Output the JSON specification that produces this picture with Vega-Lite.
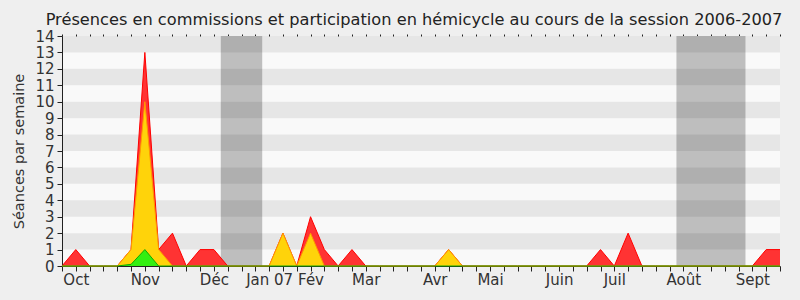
{
  "$schema": "https://vega.github.io/schema/vega-lite/v6.json",
  "width": 718,
  "height": 230,
  "autosize": {"type": "none"},
  "padding": {"left": 62, "top": 36, "right": 20, "bottom": 34},
  "background": "#efefef",
  "title": {
    "text": "Présences en commissions et participation en hémicycle au cours de la session 2006-2007",
    "font": "DejaVu Sans",
    "fontSize": 16.2,
    "fontWeight": "normal",
    "color": "#222222",
    "anchor": "middle",
    "offset": 1,
    "dx": -7
  },
  "config": {
    "view": {"fill": "#f9f9f9", "stroke": null},
    "axis": {
      "labelFont": "DejaVu Sans",
      "titleFont": "DejaVu Sans",
      "labelColor": "#333333",
      "titleColor": "#333333",
      "domainColor": "#222222",
      "tickColor": "#222222",
      "grid": false
    }
  },
  "resolve": {"axis": {"x": "independent", "y": "independent"}},
  "datasets": {
    "weeks": [
      {"week": 0, "total": 0, "hemicycle": 0, "commission": 0},
      {"week": 1, "total": 1, "hemicycle": 0, "commission": 0},
      {"week": 2, "total": 0, "hemicycle": 0, "commission": 0},
      {"week": 3, "total": 0, "hemicycle": 0, "commission": 0},
      {"week": 4, "total": 0, "hemicycle": 0, "commission": 0},
      {"week": 5, "total": 1, "hemicycle": 1, "commission": 0.1},
      {"week": 6, "total": 13, "hemicycle": 10, "commission": 1},
      {"week": 7, "total": 1, "hemicycle": 1, "commission": 0},
      {"week": 8, "total": 2, "hemicycle": 0, "commission": 0},
      {"week": 9, "total": 0, "hemicycle": 0, "commission": 0},
      {"week": 10, "total": 1, "hemicycle": 0, "commission": 0},
      {"week": 11, "total": 1, "hemicycle": 0, "commission": 0},
      {"week": 12, "total": 0, "hemicycle": 0, "commission": 0},
      {"week": 13, "total": 0, "hemicycle": 0, "commission": 0},
      {"week": 14, "total": 0, "hemicycle": 0, "commission": 0},
      {"week": 15, "total": 0, "hemicycle": 0, "commission": 0},
      {"week": 16, "total": 2, "hemicycle": 2, "commission": 0},
      {"week": 17, "total": 0, "hemicycle": 0, "commission": 0},
      {"week": 18, "total": 3, "hemicycle": 2, "commission": 0},
      {"week": 19, "total": 1, "hemicycle": 0, "commission": 0},
      {"week": 20, "total": 0, "hemicycle": 0, "commission": 0},
      {"week": 21, "total": 1, "hemicycle": 0, "commission": 0},
      {"week": 22, "total": 0, "hemicycle": 0, "commission": 0},
      {"week": 23, "total": 0, "hemicycle": 0, "commission": 0},
      {"week": 24, "total": 0, "hemicycle": 0, "commission": 0},
      {"week": 25, "total": 0, "hemicycle": 0, "commission": 0},
      {"week": 26, "total": 0, "hemicycle": 0, "commission": 0},
      {"week": 27, "total": 0, "hemicycle": 0, "commission": 0},
      {"week": 28, "total": 1, "hemicycle": 1, "commission": 0},
      {"week": 29, "total": 0, "hemicycle": 0, "commission": 0},
      {"week": 30, "total": 0, "hemicycle": 0, "commission": 0},
      {"week": 31, "total": 0, "hemicycle": 0, "commission": 0},
      {"week": 32, "total": 0, "hemicycle": 0, "commission": 0},
      {"week": 33, "total": 0, "hemicycle": 0, "commission": 0},
      {"week": 34, "total": 0, "hemicycle": 0, "commission": 0},
      {"week": 35, "total": 0, "hemicycle": 0, "commission": 0},
      {"week": 36, "total": 0, "hemicycle": 0, "commission": 0},
      {"week": 37, "total": 0, "hemicycle": 0, "commission": 0},
      {"week": 38, "total": 0, "hemicycle": 0, "commission": 0},
      {"week": 39, "total": 1, "hemicycle": 0, "commission": 0},
      {"week": 40, "total": 0, "hemicycle": 0, "commission": 0},
      {"week": 41, "total": 2, "hemicycle": 0, "commission": 0},
      {"week": 42, "total": 0, "hemicycle": 0, "commission": 0},
      {"week": 43, "total": 0, "hemicycle": 0, "commission": 0},
      {"week": 44, "total": 0, "hemicycle": 0, "commission": 0},
      {"week": 45, "total": 0, "hemicycle": 0, "commission": 0},
      {"week": 46, "total": 0, "hemicycle": 0, "commission": 0},
      {"week": 47, "total": 0, "hemicycle": 0, "commission": 0},
      {"week": 48, "total": 0, "hemicycle": 0, "commission": 0},
      {"week": 49, "total": 0, "hemicycle": 0, "commission": 0},
      {"week": 50, "total": 0, "hemicycle": 0, "commission": 0},
      {"week": 51, "total": 1, "hemicycle": 0, "commission": 0},
      {"week": 52, "total": 1, "hemicycle": 0, "commission": 0}
    ],
    "vacances": [
      {"start": 11.5, "end": 14.5},
      {"start": 44.5, "end": 49.5}
    ],
    "stripes": [
      {"lo": 1, "hi": 2}, {"lo": 3, "hi": 4}, {"lo": 5, "hi": 6},
      {"lo": 7, "hi": 8}, {"lo": 9, "hi": 10}, {"lo": 11, "hi": 12},
      {"lo": 13, "hi": 14}
    ]
  },
  "layer": [
    {
      "data": {"name": "vacances"},
      "mark": {"type": "rect", "color": "#bebebe"},
      "encoding": {
        "x": {"field": "start", "type": "quantitative", "scale": {"domain": [0, 52], "nice": false, "zero": false}, "axis": null},
        "x2": {"field": "end"}
      }
    },
    {
      "data": {"name": "stripes"},
      "mark": {"type": "rect", "color": "#000000", "opacity": 0.075},
      "encoding": {
        "y": {"field": "lo", "type": "quantitative", "scale": {"domain": [0, 14], "nice": false}, "axis": null},
        "y2": {"field": "hi"}
      }
    },
    {
      "data": {"name": "weeks"},
      "mark": {"type": "area", "color": "#ff3333", "opacity": 1, "line": {"color": "#ff0000", "strokeWidth": 1}},
      "encoding": {
        "x": {
          "field": "week", "type": "quantitative",
          "scale": {"domain": [0, 52], "nice": false, "zero": false},
          "axis": {
            "title": null,
            "values": [0,1,2,3,4,5,6,7,8,9,10,11,12,13,14,15,16,17,18,19,20,21,22,23,24,25,26,27,28,29,30,31,32,33,34,35,36,37,38,39,40,41,42,43,44,45,46,47,48,49,50,51,52],
            "labelExpr": "datum.value==1?'Oct':datum.value==6?'Nov':datum.value==11?'Déc':datum.value==15?'Jan 07':datum.value==18?'Fév':datum.value==22?'Mar':datum.value==27?'Avr':datum.value==31?'Mai':datum.value==36?'Juin':datum.value==40?'Juil':datum.value==45?'Août':datum.value==50?'Sept':''",
            "labelFontSize": 15,
            "labelOverlap": false,
            "labelPadding": 1,
            "tickSize": 5,
            "labelFlush": false
          }
        },
        "y": {
          "field": "total", "type": "quantitative",
          "scale": {"domain": [0, 14], "nice": false},
          "axis": {
            "title": "Séances par semaine",
            "titleFontSize": 14.5,
            "titleFontWeight": "normal",
            "values": [0,1,2,3,4,5,6,7,8,9,10,11,12,13,14],
            "labelFontSize": 15,
            "labelPadding": 3,
            "tickSize": 5,
            "labelOverlap": false,
            "titlePadding": 8
          }
        }
      }
    },
    {
      "data": {"name": "weeks"},
      "mark": {"type": "area", "color": "#ffd30a", "opacity": 1, "line": {"color": "#ff9900", "strokeWidth": 1}},
      "encoding": {
        "x": {"field": "week", "type": "quantitative", "axis": null},
        "y": {"field": "hemicycle", "type": "quantitative", "axis": null}
      }
    },
    {
      "data": {"name": "weeks"},
      "mark": {"type": "area", "color": "#33ee11", "opacity": 1, "line": {"color": "#11aa00", "strokeWidth": 1}},
      "encoding": {
        "x": {"field": "week", "type": "quantitative", "axis": null},
        "y": {"field": "commission", "type": "quantitative", "axis": null}
      }
    },
    {
      "data": {"name": "weeks"},
      "mark": {"type": "tick", "opacity": 0},
      "encoding": {
        "x": {
          "field": "week", "type": "quantitative",
          "axis": {
            "orient": "top", "title": null, "labels": false, "domain": false,
            "tickSize": 2,
            "values": [0,1,2,3,4,5,6,7,8,9,10,11,12,13,14,15,16,17,18,19,20,21,22,23,24,25,26,27,28,29,30,31,32,33,34,35,36,37,38,39,40,41,42,43,44,45,46,47,48,49,50,51,52]
          }
        }
      }
    }
  ]
}
